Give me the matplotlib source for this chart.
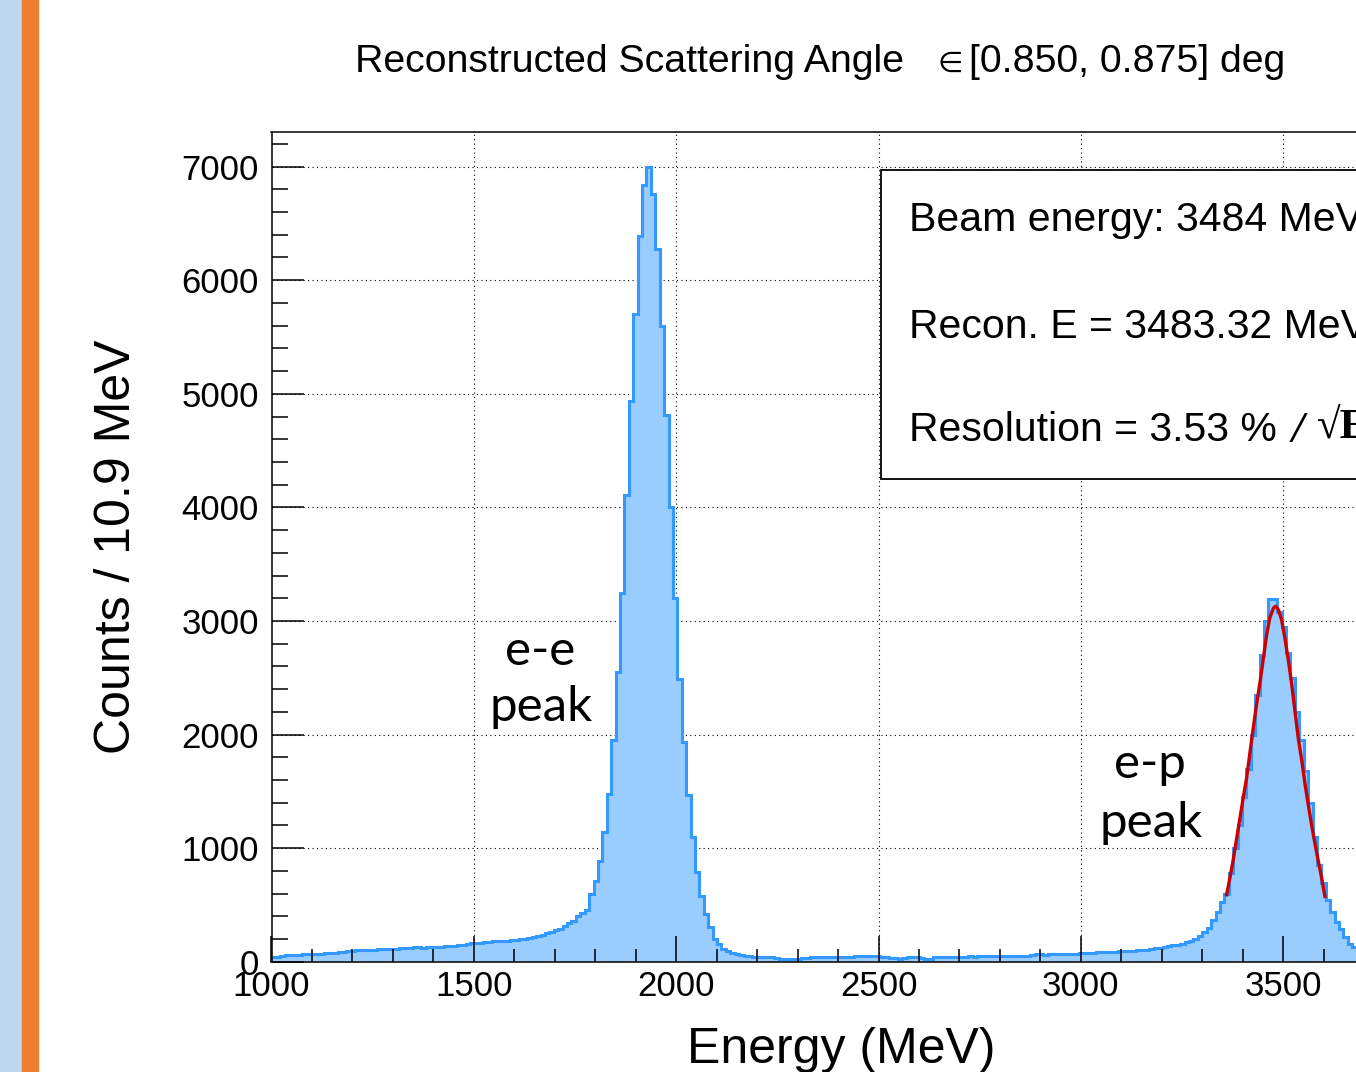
import numpy as np
import matplotlib
matplotlib.use("Agg")
import matplotlib.pyplot as plt
from matplotlib.patches import Rectangle
from matplotlib.ticker import MultipleLocator

# histogram: counts per 10.9 MeV bin, starting at 1000 MeV
bin_start = 1000.0
bin_width = 10.9
counts = [
    40, 42, 52, 58, 60, 62, 63, 65, 66, 68,
    70, 72, 74, 77, 79, 82, 90, 97, 99, 101,
    104, 106, 107, 108, 109, 110, 111, 112, 115, 118,
    121, 124, 126, 126, 125, 127, 126, 129, 132, 135,
    138, 141, 144, 147, 156, 163, 166, 168, 172, 175,
    179, 181, 184, 187, 191, 194, 198, 203, 209, 218,
    228, 238, 252, 264, 276, 290, 315, 340, 362, 400,
    430, 455, 597, 714, 891, 1140, 1479, 1949, 2551, 3243,
    4109, 4935, 5705, 6387, 6834, 7000, 6755, 6276, 5593, 4815,
    4006, 3198, 2493, 1934, 1464, 1096, 788, 582, 420, 303,
    200, 156, 115, 95, 80, 65, 56, 50, 47, 46,
    45, 45, 44, 40, 32, 28, 26, 25, 26, 27,
    30, 34, 38, 40, 41, 41, 40, 42, 41, 43,
    45, 46, 48, 49, 50, 49, 50, 48, 44, 40,
    36, 30, 27, 35, 40, 41, 38, 33, 27, 29,
    38, 41, 44, 45, 44, 46, 45, 46, 47, 46,
    47, 48, 47, 48, 47, 48, 49, 48, 47, 49,
    52, 55, 60, 66, 66, 64, 67, 68, 70, 71,
    72, 72, 73, 74, 76, 78, 80, 82, 85, 87,
    88, 90, 92, 94, 96, 98, 100, 104, 108, 112,
    118, 122, 128, 136, 145, 151, 160, 170, 180, 200,
    230, 260, 300, 370, 440, 530, 600, 780, 1000, 1200,
    1450, 1700, 2000, 2350, 2700, 3000, 3190, 3195, 3080, 2950,
    2720, 2500, 2200, 1950, 1680, 1400, 1100, 850, 690, 540,
    440, 350, 290, 220, 160, 130, 110,
]

# gaussian fit drawn over the e-p peak
fit_energy = [3360, 3368, 3377, 3385, 3393, 3401, 3410, 3418, 3426, 3434,
              3443, 3451, 3459, 3467, 3476, 3481, 3488, 3496, 3504, 3513,
              3521, 3529, 3537, 3546, 3554, 3562, 3570, 3579, 3587, 3595, 3603]
fit_counts = [590, 735, 910, 1090, 1265, 1440, 1630, 1850, 2060, 2265,
              2470, 2675, 2880, 3030, 3115, 3130, 3100, 3010, 2850, 2645,
              2440, 2205, 1970, 1765, 1560, 1380, 1205, 1030, 880, 735, 575]

x_ticks = [1000, 1500, 2000, 2500, 3000, 3500]
y_ticks = [0, 1000, 2000, 3000, 4000, 5000, 6000, 7000]

box_lines = ["Beam energy: 3484 MeV", "Recon. E = 3483.32 MeV", "Resolution = 3.53 %"]

W, H = 1356, 1072
root_font = ["Liberation Sans", "DejaVu Sans"]
plt.rcParams["font.family"] = root_font

fig = plt.figure(figsize=(W / 100, H / 100), dpi=100)

# slide decoration on the left
fig.patches.append(Rectangle((0, 0), 22 / W, 1, transform=fig.transFigure, color="#bdd7ee", zorder=0))
fig.patches.append(Rectangle((22 / W, 0), 16 / W, 1, transform=fig.transFigure, color="#ed7d31", zorder=0))

x_min, x_max = 1000, 3818
px_per_mev = 0.4047
x_left = 271.5
x_right = x_left + (x_max - x_min) * px_per_mev
y_bot, y_top = 961.8, 131.7
ax = fig.add_axes([x_left / W, 1 - y_bot / H, (x_right - x_left) / W, (y_bot - y_top) / H])

edges = bin_start + bin_width * np.arange(len(counts) + 1)
ax.stairs(counts, edges, fill=True, color="#99ccff", zorder=1)
ax.stairs(counts, edges, baseline=None, color="#3399ff", lw=2.2, zorder=1.5)
ax.plot(fit_energy, fit_counts, color="#cc0000", lw=2.4, zorder=1.8)

ax.set_xlim(x_min, x_max)
ax.set_ylim(0, 7307)

# dotted grid under the histogram
for xv in x_ticks:
    ax.axvline(xv, color="black", lw=0.8, ls=(0, (1, 3)), zorder=0.5)
for yv in y_ticks:
    ax.axhline(yv, color="black", lw=0.8, ls=(0, (1, 3)), zorder=0.5)

ax.set_xticks(x_ticks)
ax.set_yticks(y_ticks)
ax.xaxis.set_minor_locator(MultipleLocator(100))
ax.yaxis.set_minor_locator(MultipleLocator(200))
ax.tick_params(axis="x", which="major", direction="in", length=19, width=1.1, labelsize=25, pad=6)
ax.tick_params(axis="x", which="minor", direction="in", length=9.5, width=1.1)
ax.tick_params(axis="y", which="major", direction="in", length=23, width=1.1, labelsize=25, pad=9)
ax.tick_params(axis="y", which="minor", direction="in", length=11.5, width=1.1)
for sp in ax.spines.values():
    sp.set_linewidth(1.1)

ax.set_xlabel("Energy (MeV)", fontsize=36, labelpad=17)
ax.set_ylabel("Counts / 10.9 MeV", fontsize=36, labelpad=30)

# title
fig.text(355 / W, 1 - 62 / H, "Reconstructed Scattering Angle", fontsize=28.3, va="center", ha="left")
fig.text(938 / W, 1 - 64 / H, "\u2208", fontsize=21, va="center", ha="left")
fig.text(969 / W, 1 - 62 / H, "[0.850, 0.875] deg", fontsize=28.3, va="center", ha="left")

# fit summary box
fig.patches.append(Rectangle((881 / W, 1 - 479 / H), 0.5, (479 - 170) / H,
                             transform=fig.transFigure, facecolor="white",
                             edgecolor="black", lw=1.3, zorder=3))
for txt, yy in zip(box_lines, [220, 327, 430]):
    fig.text(909 / W, 1 - yy / H, txt, fontsize=29.5, va="center", ha="left", zorder=4)
serif = ["Liberation Serif", "DejaVu Serif"]
fig.text(1292 / W, 1 - 431 / H, "/", fontsize=32, va="center", ha="left",
         family=serif, weight="bold", style="italic", zorder=4)
fig.text(1317 / W, 1 - 428 / H, "\u221aE", fontsize=31, va="center", ha="left",
         family=serif, weight="bold", zorder=4)

# slide annotations
for xx, yy, txt in [(540, 665, "e-e"), (541, 721, "peak"), (1150, 778, "e-p"), (1151, 837, "peak")]:
    fig.text(xx / W, 1 - yy / H, txt, fontsize=35.5, ha="center", va="baseline",
             family=["Lato", "DejaVu Sans"])

fig.savefig("out.png", dpi=100)
